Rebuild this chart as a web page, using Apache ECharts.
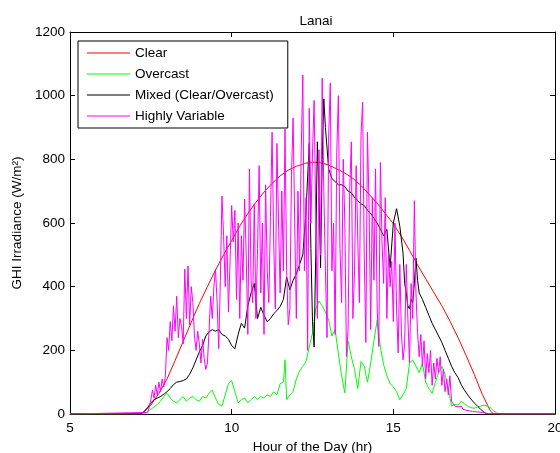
<!DOCTYPE html>
<html>
<head>
<meta charset="utf-8">
<script src="https://cdn.jsdelivr.net/npm/echarts@6/dist/echarts.min.js"></script>
<style>
  html, body { margin: 0; padding: 0; background: #fff; }
  #chart { width: 560px; height: 453px; }
</style>
</head>
<body>
<div id="chart"></div>
<script>
// hour of day, GHI (W/m2)
const clearGHI = [
  [5, 0], [7.2, 0], [7.25, 3], [7.5, 28], [7.75, 65], [8, 110], [8.25, 168], [8.5, 228],
  [8.75, 288], [9, 347], [9.25, 400], [9.5, 452], [9.75, 500], [10, 545], [10.25, 590],
  [10.5, 630], [10.75, 665], [11, 697], [11.25, 724], [11.5, 748], [11.75, 766], [12, 778],
  [12.25, 787], [12.5, 791], [12.75, 790], [13, 782], [13.25, 770], [13.5, 757], [13.75, 740],
  [14, 718], [14.25, 690], [14.5, 662], [14.75, 630], [15, 598], [15.25, 558], [15.5, 514],
  [15.75, 468], [16, 425], [16.25, 382], [16.5, 340], [16.75, 292], [17, 240], [17.25, 184],
  [17.5, 125], [17.75, 62], [18, 10], [18.1, 0], [20, 0]
];

const overcastGHI = [
  [5, 0], [7.3, 0], [7.4, 8], [7.5, 15], [7.6, 22], [7.7, 30], [7.8, 40], [7.9, 55], [8, 65],
  [8.1, 50], [8.2, 40], [8.3, 35], [8.4, 45], [8.5, 55], [8.6, 40], [8.7, 50], [8.8, 55],
  [8.9, 45], [9, 40], [9.1, 55], [9.2, 50], [9.3, 65], [9.4, 75], [9.5, 50], [9.6, 30],
  [9.7, 25], [9.8, 60], [9.9, 95], [10, 105], [10.1, 70], [10.2, 35], [10.3, 45], [10.4, 50],
  [10.5, 35], [10.6, 45], [10.7, 55], [10.8, 45], [10.9, 55], [11, 50], [11.1, 60], [11.2, 55],
  [11.3, 70], [11.4, 60], [11.5, 95], [11.6, 100], [11.65, 170], [11.7, 45], [11.8, 60],
  [11.9, 70], [12, 110], [12.1, 135], [12.2, 150], [12.3, 165], [12.4, 210], [12.5, 255],
  [12.6, 330], [12.7, 355], [12.8, 340], [12.9, 320], [13, 295], [13.1, 245], [13.2, 265],
  [13.3, 190], [13.4, 120], [13.5, 66], [13.6, 230], [13.7, 180], [13.8, 140], [13.9, 80],
  [14, 165], [14.1, 150], [14.2, 100], [14.3, 160], [14.4, 230], [14.5, 295], [14.6, 210],
  [14.7, 155], [14.8, 120], [14.9, 95], [15, 85], [15.1, 70], [15.2, 45], [15.3, 60], [15.4, 80],
  [15.5, 160], [15.6, 170], [15.7, 150], [15.8, 130], [15.9, 160], [16, 100], [16.1, 80],
  [16.2, 65], [16.3, 100], [16.4, 130], [16.5, 150], [16.6, 125], [16.7, 80], [16.8, 25],
  [16.9, 30], [17, 28], [17.1, 40], [17.2, 32], [17.3, 25], [17.4, 20], [17.5, 18], [17.6, 22],
  [17.7, 25], [17.8, 28], [17.9, 25], [18, 20], [18.1, 10], [18.2, 3], [18.3, 0], [20, 0]
];

const mixedGHI = [
  [5, 0], [7.2, 0], [7.3, 8], [7.4, 20], [7.5, 35], [7.6, 45], [7.7, 50], [7.8, 55], [7.9, 62],
  [8, 70], [8.1, 80], [8.2, 92], [8.3, 100], [8.4, 102], [8.5, 105], [8.6, 110], [8.7, 125],
  [8.8, 145], [8.9, 170], [9, 195], [9.1, 215], [9.2, 245], [9.3, 258], [9.4, 265], [9.5, 260],
  [9.6, 265], [9.7, 250], [9.8, 245], [9.9, 235], [10, 215], [10.1, 205], [10.2, 250],
  [10.3, 285], [10.4, 270], [10.5, 340], [10.6, 380], [10.7, 410], [10.8, 300], [10.9, 335],
  [11, 310], [11.1, 290], [11.2, 300], [11.3, 315], [11.4, 325], [11.5, 338], [11.6, 360],
  [11.7, 430], [11.8, 390], [11.9, 420], [12, 440], [12.1, 470], [12.2, 500], [12.3, 640],
  [12.4, 850], [12.45, 520], [12.5, 290], [12.55, 210], [12.6, 500], [12.65, 855], [12.7, 700],
  [12.75, 460], [12.8, 800], [12.85, 990], [12.9, 900], [13, 770], [13.1, 740], [13.2, 730],
  [13.3, 720], [13.4, 720], [13.5, 715], [13.6, 700], [13.7, 695], [13.8, 680], [13.9, 670],
  [14, 660], [14.1, 655], [14.2, 640], [14.3, 630], [14.4, 615], [14.5, 600], [14.6, 580],
  [14.7, 560], [14.8, 580], [14.9, 460], [15, 600], [15.1, 645], [15.2, 590], [15.3, 505],
  [15.35, 410], [15.4, 380], [15.45, 340], [15.5, 330], [15.55, 360], [15.6, 350], [15.65, 410],
  [15.7, 490], [15.75, 420], [15.8, 380], [15.9, 360], [16, 335], [16.1, 310], [16.2, 285],
  [16.3, 265], [16.4, 245], [16.5, 225], [16.6, 200], [16.7, 175], [16.8, 150], [16.9, 130],
  [17, 115], [17.1, 92], [17.2, 75], [17.3, 60], [17.4, 47], [17.5, 35], [17.6, 25], [17.7, 15],
  [17.8, 6], [17.9, 0], [20, 0]
];

// highly variable day, every 3 minutes from 7.40 h
const variableStart = 7.4;
const variableStep = 0.05;
const variableGHI = [
  5, 20, 45, 75, 50, 90, 60, 100, 70, 110, 85, 120,
  240, 200, 290, 230, 340, 260, 370, 240, 300, 275, 220, 455, 300, 465, 280, 400, 350, 245, 200, 260,
  220, 160, 235, 175, 140, 160, 260, 370, 300, 400, 455, 350, 205, 420, 685, 560, 400, 560, 320, 480,
  655, 540, 640, 360, 600, 300, 560, 420, 675, 500, 250, 770, 420, 350, 660, 300, 520, 780, 380, 600,
  250, 720, 450, 350, 620, 885, 540, 330, 850, 600, 380, 700, 450, 895, 450, 280, 330, 750, 930, 600,
  300, 700, 450, 820, 1065, 450, 680, 200, 960, 600, 820, 985, 620, 300, 830, 500, 1055, 700, 450, 240,
  870, 1040, 450, 600, 250, 820, 1000, 520, 350, 800, 600, 180, 265, 700, 855, 300, 450, 780, 550, 350,
  875, 980, 500, 225, 885, 650, 265, 680, 420, 770, 330, 212, 790, 540, 410, 680, 300, 505, 400, 480,
  290, 600, 330, 192, 470, 255, 170, 220, 470, 300, 160, 410, 300, 670, 380, 255, 180, 250, 150, 230,
  110, 190, 130, 200, 90, 160, 110, 175, 130, 180, 90, 140, 70, 110, 60, 120, 40, 35, 25, 20,
  22, 18, 25, 15, 20, 12, 15, 10, 12, 8, 10, 7, 8, 6, 5, 5, 4, 3, 2, 0
];

const seriesNames = ['Clear', 'Overcast', 'Mixed (Clear/Overcast)', 'Highly Variable'];
const seriesColors = ['#ff0000', '#00ff00', '#000000', '#ff00ff'];

const variablePairs = [[5, 0]];
variableGHI.forEach((v, i) => {
  variablePairs.push([+(variableStart + i * variableStep).toFixed(2), v]);
});
variablePairs.push([20, 0]);

const seriesData = [clearGHI, overcastGHI, mixedGHI, variablePairs];

const font = 'Arial, "Liberation Sans", sans-serif';
const fs = 13.5;

let chart = echarts.init(document.getElementById('chart'), null, { renderer: 'canvas' });

const tick = { inside: true, length: 5, lineStyle: { color: '#000', width: 1 } };
const line = { onZero: false, lineStyle: { color: '#000', width: 1 } };

let option = {
  animation: false,
  backgroundColor: '#fff',
  title: {
    text: 'Lanai',
    left: 311,
    textAlign: 'center',
    top: 9,
    textStyle: { color: '#000', fontSize: fs, fontWeight: 'normal', fontFamily: font }
  },
  grid: { left: 70, right: 5, top: 32, bottom: 39, containLabel: false, outerBoundsMode: 'none' },
  legend: {
    data: seriesNames,
    orient: 'vertical',
    left: 78,
    top: 41,
    icon: 'rect', // plain line sample, no marker
    itemWidth: 43,
    itemHeight: 1,
    itemGap: 7,
    padding: [5, 14, 5, 9],
    borderColor: '#000',
    borderWidth: 1,
    backgroundColor: '#fff',
    textStyle: { color: '#000', fontSize: fs, fontFamily: font, lineHeight: 14 }
  },
  xAxis: [
    {
      type: 'value', min: 5, max: 20, interval: 5,
      name: 'Hour of the Day (hr)', nameLocation: 'middle', nameGap: 23,
      nameTextStyle: { color: '#000', fontSize: fs, fontFamily: font },
      axisLine: line, axisTick: tick,
      axisLabel: { color: '#000', fontSize: fs, fontFamily: font, margin: 7 },
      splitLine: { show: false }
    },
    {
      type: 'value', position: 'top', min: 5, max: 20, interval: 5,
      axisLine: line, axisTick: tick, axisLabel: { show: false }, splitLine: { show: false }
    }
  ],
  yAxis: [
    {
      type: 'value', min: 0, max: 1200, interval: 200,
      name: 'GHI Irradiance (W/m²)', nameLocation: 'middle', nameGap: 45,
      nameTextStyle: { color: '#000', fontSize: fs, fontFamily: font },
      axisLine: line, axisTick: tick,
      axisLabel: { color: '#000', fontSize: fs, fontFamily: font, margin: 5, formatter: (v) => String(v) },
      splitLine: { show: false }
    },
    {
      type: 'value', position: 'right', min: 0, max: 1200, interval: 200,
      axisLine: line, axisTick: tick, axisLabel: { show: false }, splitLine: { show: false }
    }
  ],
  series: seriesNames.map((name, i) => ({
    name: name,
    type: 'line',
    xAxisIndex: 0,
    yAxisIndex: 0,
    data: seriesData[i],
    symbol: 'none',
    color: seriesColors[i],
    lineStyle: { color: seriesColors[i], width: 1 }
  }))
};

chart.setOption(option);
</script>
</body>
</html>
